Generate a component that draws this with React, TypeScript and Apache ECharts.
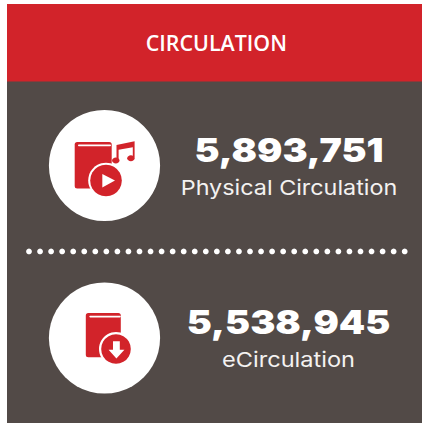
import React, { useEffect, useRef } from "react";
import * as echarts from "echarts";

const title = "CIRCULATION";
const metricValues = ["5,893,751", "5,538,945"];
const metricLabels = ["Physical Circulation", "eCirculation"];

const RED = "#d2232a";
const GRAY = "#524a47";
const WHITE = "#ffffff";

function valueText(text: string, cx: number, cy: number, scaleX: number) {
  return {
    type: "text", x: cx, y: cy, scaleX, silent: true,
    style: { text, fill: WHITE, font: "900 33px Inter", textAlign: "center", textVerticalAlign: "middle" },
  };
}
function labelText(text: string, cx: number, cy: number, scaleX: number) {
  return {
    type: "text", x: cx, y: cy, scaleX, silent: true,
    style: { text, fill: "#f4f2f1", font: "400 20.5px Inter", textAlign: "center", textVerticalAlign: "middle" },
  };
}
const red = { fill: RED };
const white = { fill: WHITE };

function buildGraphics() {
  const dots: any[] = [];
  for (let i = 0; i < 35; i++) {
    dots.push({ type: "circle", silent: true, shape: { cx: 29 + i * 11.05, cy: 251.4, r: 2.9 }, style: white });
  }
  return [
    { type: "rect", silent: true, shape: { x: 7, y: 4, width: 415, height: 419 }, style: { fill: GRAY } },
    { type: "rect", silent: true, shape: { x: 7, y: 4, width: 415, height: 77.6 }, style: red },
    {
      type: "text", x: 216.3, y: 42.6, silent: true,
      style: { text: title, fill: WHITE, font: "600 21.4px 'Open Sans'", textAlign: "center", textVerticalAlign: "middle" },
    },
    { type: "circle", silent: true, shape: { cx: 104.5, cy: 165.5, r: 55.6 }, style: white },
    { type: "circle", silent: true, shape: { cx: 104.5, cy: 338, r: 55.6 }, style: white },

    // icon 1: book + music note + play badge
    { type: "rect", silent: true, shape: { x: 74.7, y: 142, width: 37, height: 46.5, r: 2.5 }, style: red },
    { type: "rect", silent: true, shape: { x: 78, y: 144.6, width: 33, height: 1.6, r: 0.8 }, style: white },
    { type: "polygon", silent: true, shape: { points: [[116.5, 145], [134.6, 141.3], [134.6, 157.5], [132.8, 157.5], [132.8, 147.2], [118.6, 149.8], [118.6, 160.5], [116.5, 160.5]] }, style: red },
    { type: "ellipse", silent: true, shape: { cx: 115.8, cy: 160.4, rx: 3.7, ry: 3 }, style: red },
    { type: "ellipse", silent: true, shape: { cx: 130.9, cy: 158.3, rx: 3.7, ry: 3 }, style: red },
    { type: "circle", silent: true, shape: { cx: 106, cy: 180.5, r: 17.8 }, style: white },
    { type: "circle", silent: true, shape: { cx: 106, cy: 180.5, r: 15.8 }, style: red },
    { type: "polygon", silent: true, shape: { points: [[102.3, 174], [102.3, 187.5], [115, 180.6]] }, style: white },

    // icon 2: book + download badge
    { type: "rect", silent: true, shape: { x: 85.8, y: 313, width: 35, height: 44.3, r: 2.5 }, style: red },
    { type: "rect", silent: true, shape: { x: 89.3, y: 315.8, width: 31.5, height: 1.6, r: 0.8 }, style: white },
    { type: "circle", silent: true, shape: { cx: 116, cy: 349, r: 17 }, style: white },
    { type: "circle", silent: true, shape: { cx: 116, cy: 349, r: 14.8 }, style: red },
    { type: "polygon", silent: true, shape: { points: [[113, 341.3], [119.8, 341.3], [119.8, 349.7], [124.4, 349.7], [116.4, 358.6], [108.6, 349.7], [113, 349.7]] }, style: white },

    ...dots,

    valueText(metricValues[0], 289, 150.3, 1.14),
    labelText(metricLabels[0], 289, 187.8, 1.14),
    valueText(metricValues[1], 288.5, 322.5, 1.14),
    labelText(metricLabels[1], 288.5, 359.8, 1.15),
  ];
}

export default function App() {
  const ref = useRef<HTMLDivElement>(null);
  useEffect(() => {
    document.body.style.margin = "0";
    const chart = echarts.init(ref.current!, undefined, { renderer: "svg" });
    chart.setOption({ animation: false, backgroundColor: WHITE, graphic: { elements: buildGraphics() } });
    return () => chart.dispose();
  }, []);
  return <div ref={ref} style={{ width: 422, height: 423 }} />;
}
